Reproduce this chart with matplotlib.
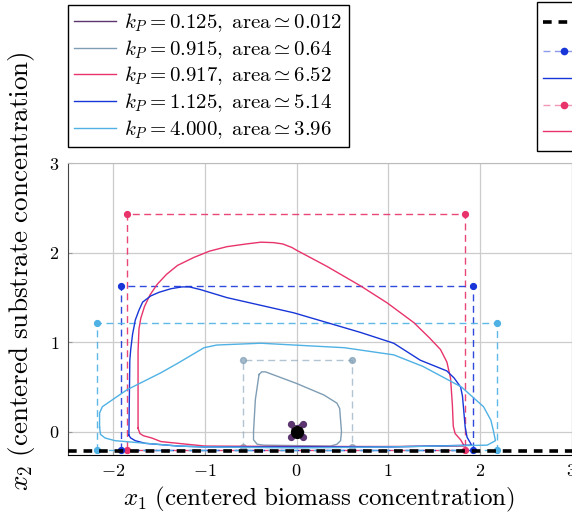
import numpy as np
import matplotlib
matplotlib.use("Agg")
import matplotlib.pyplot as plt
from matplotlib.lines import Line2D

plt.rcParams["mathtext.fontset"] = "cm"
plt.rcParams["font.family"] = ["cmr10", "DejaVu Serif"]

# --- limit cycles (x1, x2) ---
kp_labels = ["0.125", "0.915", "0.917", "1.125", "4.000"]
areas = ["0.012", "0.64", "6.52", "5.14", "3.96"]
colors = ["#5b3470", "#7f9db4", "#e8336b", "#1836d8", "#4fb1e4"]

cyc_purple_x = [-0.045, 0.05, 0.06, 0.04, -0.04, -0.05, -0.045]
cyc_purple_y = [0.065, 0.07, 0.0, -0.045, -0.045, 0.01, 0.065]

cyc_grey_x = [-0.41, -0.38, -0.34, 0.0, 0.30, 0.44, 0.47, 0.49, 0.48, 0.44, 0.37, -0.36, -0.43, -0.47, -0.47, -0.45, -0.41]
cyc_grey_y = [0.64, 0.67, 0.67, 0.54, 0.41, 0.32, 0.26, 0.0, -0.10, -0.14, -0.16, -0.15, -0.14, -0.09, 0.0, 0.36, 0.64]

cyc_pink_x = [-1.73, -1.73, -1.72, -1.70, -1.66, -1.60, -1.52, -1.42, -1.30, -1.12, -0.95, -0.76,
              -0.55, -0.39, -0.25, -0.15, -0.05, 0.0, 0.33, 0.70, 0.99, 1.28, 1.45, 1.57, 1.64, 1.68,
              1.70, 1.71, 1.73, 1.79, 1.83, 1.0, 0.0, -1.0, -1.29, -1.48, -1.58, -1.67, -1.71, -1.73]
cyc_pink_y = [0.04, 0.90, 1.15, 1.27, 1.40, 1.53, 1.65, 1.76, 1.86, 1.95, 2.02, 2.07,
              2.10, 2.12, 2.115, 2.10, 2.06, 2.03, 1.85, 1.63, 1.44, 1.22, 1.05, 0.92, 0.78, 0.60,
              0.30, 0.06, -0.02, -0.09, -0.16, -0.165, -0.165, -0.16, -0.13, -0.11, -0.07, -0.045, -0.02, 0.04]

cyc_blue_x = [-1.83, -1.82, -1.81, -1.79, -1.76, -1.72, -1.68, -1.59, -1.50, -1.37, -1.25, -1.17,
              -1.05, -0.76, -0.03, 0.70, 1.06, 1.35, 1.64, 1.72, 1.79, 1.81, 1.84, 1.86, 1.91,
              1.0, 0.0, -1.0, -1.29, -1.65, -1.76, -1.81, -1.83]
cyc_blue_y = [-0.04, 0.80, 0.92, 1.09, 1.25, 1.36, 1.45, 1.52, 1.56, 1.60, 1.62, 1.62,
              1.59, 1.50, 1.33, 1.11, 0.99, 0.80, 0.68, 0.60, 0.50, 0.40, 0.05, -0.06, -0.15,
              -0.17, -0.17, -0.17, -0.16, -0.13, -0.10, -0.07, -0.04]

cyc_lblue_x = [-2.15, -2.15, -2.12, -1.85, -1.48, -1.29, -1.01, -0.87, -0.39, -0.03, 0.52, 1.06,
               1.38, 1.80, 2.04, 2.12, 2.15, 2.17, 2.08, 1.0, 0.0, -1.0, -1.29, -1.98, -2.09, -2.14, -2.15]
cyc_lblue_y = [0.05, 0.21, 0.28, 0.47, 0.66, 0.77, 0.94, 0.97, 0.99, 0.97, 0.94, 0.86,
               0.73, 0.50, 0.28, 0.13, 0.0, -0.10, -0.15, -0.17, -0.18, -0.17, -0.16, -0.10, -0.07, -0.03, 0.05]

cycles_x = [cyc_purple_x, cyc_grey_x, cyc_pink_x, cyc_blue_x, cyc_lblue_x]
cycles_y = [cyc_purple_y, cyc_grey_y, cyc_pink_y, cyc_blue_y, cyc_lblue_y]

# bounding boxes of each cycle: (x_min, x_max), (y_min, y_max)
box_x = [(-0.06, 0.075), (-0.59, 0.60), (-1.85, 1.84), (-1.92, 1.93), (-2.18, 2.19)]
box_y = [(-0.055, 0.085), (-0.165, 0.80), (-0.20, 2.43), (-0.20, 1.63), (-0.20, 1.22)]

x2_min = -0.21  # lower constraint on x2
equilibrium = (0.0, 0.0)

xticks = [-2, -1, 0, 1, 2, 3]
yticks = [0, 1, 2, 3]

fig = plt.figure(figsize=(5.72, 5.23), dpi=100)
ax = fig.add_axes([67.5 / 572, 68 / 523, 504 / 572, 291.5 / 523])

ax.grid(True, color="#cccccc", lw=0.9)
ax.set_axisbelow(True)

# constraint line
ax.axhline(x2_min, color="black", lw=2.6, dashes=(2.4, 1.9), zorder=5)

# boxes with corner markers
for (x0, x1), (y0, y1), c in zip(box_x, box_y, colors):
    bx = [x0, x1, x1, x0, x0]
    by = [y0, y0, y1, y1, y0]
    a = 0.6 if c == "#7f9db4" else 0.9
    ax.plot(bx, by, color=c, lw=1.0, dashes=(5, 3.2), alpha=a, zorder=3)
    ax.plot([x0, x1, x1, x0], [y0, y0, y1, y1], "o", color=c, ms=4.2, alpha=min(a + 0.1, 1), zorder=4)

# limit cycles
handles = []
for cx, cy, c, kp, ar in zip(cycles_x, cycles_y, colors, kp_labels, areas):
    (h,) = ax.plot(cx, cy, color=c, lw=1.0, zorder=4,
                   label=r"$k_P = %s,\ \mathrm{area} \simeq %s$" % (kp, ar))
    handles.append(h)

ax.plot(*equilibrium, "o", color="black", ms=8.5, zorder=6)

ax.set_xlim(-2.5, 3)
ax.set_ylim(-0.26, 3)
ax.set_xticks(xticks, labels=["$%d$" % v for v in xticks])
ax.set_yticks(yticks, labels=["$%d$" % v for v in yticks])
ax.tick_params(direction="in", length=3, color="#999999", labelsize=13, pad=6)

for s in ["top", "right"]:
    ax.spines[s].set_color("#bbbbbb")
ax.spines["left"].set_color("#444444")
ax.spines["bottom"].set_color("black")

ax.set_xlabel(r"$x_1\ \mathrm{(centered\ biomass\ concentration)}$", fontsize=18, labelpad=4)
ax.set_ylabel(r"$x_2\ \mathrm{(centered\ substrate\ concentration)}$", fontsize=19.5)
ax.yaxis.set_label_coords(-0.061, 0.63)

leg_kw = dict(loc="upper left", borderaxespad=0, fontsize=15, frameon=True, fancybox=False,
              edgecolor="black", framealpha=1, labelspacing=0.18, handlelength=2.0,
              handletextpad=0.4, borderpad=0.3)
leg1 = fig.legend(handles=handles, bbox_to_anchor=(68 / 572, 1 - 5 / 523), **leg_kw)
leg1.get_frame().set_linewidth(1.0)

box_line_b = Line2D([], [], color="#1836d8", lw=1.0, dashes=(5, 3.2), alpha=0.5)
box_dot_b = Line2D([], [], color="#1836d8", ls="none", marker="o", ms=4.5)
box_line_p = Line2D([], [], color="#e8336b", lw=1.0, dashes=(5, 3.2), alpha=0.5)
box_dot_p = Line2D([], [], color="#e8336b", ls="none", marker="o", ms=4.5)
handles2 = [
    Line2D([], [], color="black", lw=2.6, dashes=(2.4, 1.9)),
    (box_line_b, box_dot_b),
    Line2D([], [], color="#1836d8", lw=1.0),
    (box_line_p, box_dot_p),
    Line2D([], [], color="#e8336b", lw=1.0),
]
labels2 = [r"$x_2 = x_2^{\min}$", r"$\mathrm{box},\ k_P = 1.125$", r"$\mathrm{cycle},\ k_P = 1.125$",
           r"$\mathrm{box},\ k_P = 0.917$", r"$\mathrm{cycle},\ k_P = 0.917$"]
leg2 = fig.legend(handles2, labels2, bbox_to_anchor=(537 / 572, 1 - 2 / 523), **leg_kw)
leg2.get_frame().set_linewidth(1.0)

fig.savefig("out.png", dpi=100)
